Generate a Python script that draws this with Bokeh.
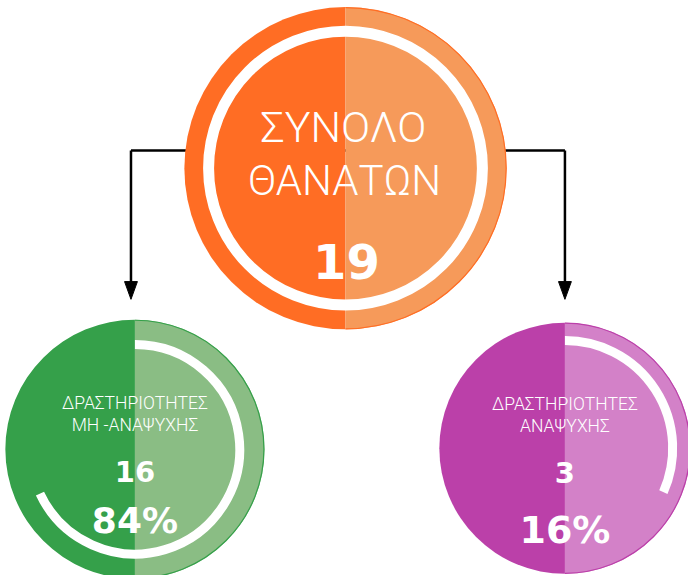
import math
from bokeh.plotting import figure
from bokeh.models import Range1d
from bokeh.core.properties import value
from bokeh.embed import file_html
from bokeh.resources import INLINE

# ---- data ----
total_title = ["ΣΥΝΟΛΟ", "ΘΑΝΑΤΩΝ"]
total_deaths = 19
group_line1 = ["ΔΡΑΣΤΗΡΙΟΤΗΤΕΣ", "ΔΡΑΣΤΗΡΙΟΤΗΤΕΣ"]
group_line2 = ["ΜΗ -ΑΝΑΨΥΧΗΣ", "ΑΝΑΨΥΧΗΣ"]
group_deaths = [16, 3]
group_pct = [round(100 * v / total_deaths) for v in group_deaths]

# ---- layout / style ----
W, H = 688, 575
VW, VH = 696, 583  # design space
def Y(v):
    return VH - v  # design y (down) -> data y (up)

LIGHT = value("Roboto Light")
BOLD = value("DejaVu Sans")
WHITE = "#ffffff"

p = figure(width=W, height=H, x_range=Range1d(0, VW), y_range=Range1d(0, VH),
           x_axis_type=None, y_axis_type=None, output_backend="svg",
           toolbar_location=None, min_border=0)
p.outline_line_color = None
p.background_fill_color = WHITE
p.border_fill_color = WHITE

# connectors (drawn under circles)
top_c = (349, 170)
left_x, right_x, conn_y = 132, 571, 152
p.line([left_x, top_c[0]], [Y(conn_y), Y(conn_y)], line_color="black", line_width=2.5)
p.line([right_x, top_c[0]], [Y(conn_y), Y(conn_y)], line_color="black", line_width=2.5)
for ax in (left_x, right_x):
    p.line([ax, ax], [Y(conn_y), Y(288)], line_color="black", line_width=2.5)
    p.patch([ax - 6.5, ax + 6.5, ax], [Y(285), Y(285), Y(303)], color="black")

def half_disc(cx, cy, r, dark, light):
    p.wedge(x=[cx], y=[Y(cy)], radius=r, start_angle=math.pi / 2, end_angle=3 * math.pi / 2,
            fill_color=dark, line_color=None)
    p.wedge(x=[cx], y=[Y(cy)], radius=r, start_angle=-math.pi / 2, end_angle=math.pi / 2,
            fill_color=light, line_color=None)
    p.arc(x=[cx], y=[Y(cy)], radius=r - 0.5, start_angle=-math.pi / 2, end_angle=math.pi / 2,
          line_color=dark, line_width=1.2)

# top total circle
half_disc(top_c[0], top_c[1], 163, "#ff6d24", "#f69a5a")
p.circle(x=[top_c[0]], y=[Y(top_c[1])], radius=138.5, fill_color=None, line_color=WHITE, line_width=11)
p.text(x=[347], y=[Y(128)], text=[total_title[0]], text_font=LIGHT, text_font_size="43px",
       text_color=WHITE, text_align="center", text_baseline="alphabetic")
p.text(x=[348], y=[Y(183)], text=[total_title[1]], text_font=LIGHT, text_font_size="42px",
       text_color=WHITE, text_align="center", text_baseline="alphabetic")
p.text(x=[350], y=[Y(265)], text=[str(total_deaths)], text_font=BOLD, text_font_style="bold",
       text_font_size="48px", text_color=WHITE, text_align="center", text_baseline="alphabetic")

# group circles
groups = [
    dict(cx=136, cy=455, r=131, dark="#35a04a", light="#8abd84",
         arc_r=106, arc_end=205, base=(408, 430, 478, 527), pct_size="36px"),
    dict(cx=571, cy=454, r=127, dark="#bb40a9", light="#d381c8",
         arc_r=109, arc_end=-24, base=(409, 431, 479, 537), pct_size="38px"),
]
for i, g in enumerate(groups):
    half_disc(g["cx"], g["cy"], g["r"], g["dark"], g["light"])
    p.arc(x=[g["cx"]], y=[Y(g["cy"])], radius=g["arc_r"], start_angle=math.pi / 2,
          end_angle=math.radians(g["arc_end"]), direction="clock",
          line_color=WHITE, line_width=9)
    b = g["base"]
    p.text(x=[g["cx"]], y=[Y(b[0])], text=[group_line1[i]], text_font=LIGHT, text_font_size="17.5px",
           text_color=WHITE, text_align="center", text_baseline="alphabetic")
    p.text(x=[g["cx"]], y=[Y(b[1])], text=[group_line2[i]], text_font=LIGHT, text_font_size="17.5px",
           text_color=WHITE, text_align="center", text_baseline="alphabetic")
    p.text(x=[g["cx"]], y=[Y(b[2])], text=[str(group_deaths[i])], text_font=BOLD,
           text_font_style="bold", text_font_size="29px", text_color=WHITE,
           text_align="center", text_baseline="alphabetic")
    p.text(x=[g["cx"]], y=[Y(b[3])], text=[f"{group_pct[i]}%"], text_font=BOLD,
           text_font_style="bold", text_font_size=g["pct_size"], text_color=WHITE,
           text_align="center", text_baseline="alphabetic")

open("out.html", "w").write(file_html(p, INLINE))
